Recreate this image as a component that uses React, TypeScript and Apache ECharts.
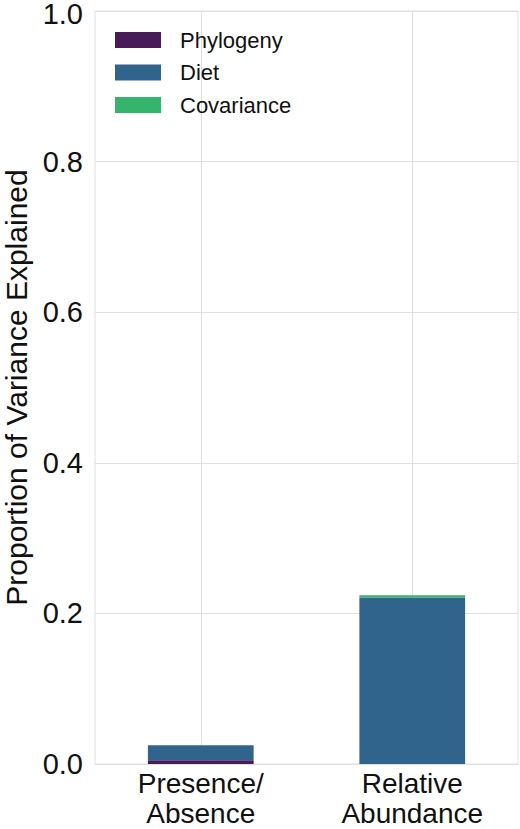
import { useEffect, useRef } from "react";
import * as echarts from "echarts";

const categories = ["Presence/\nAbsence", "Relative\nAbundance"];
const phylogeny = [0.005, 0.0];
const diet = [0.02, 0.221];
const covariance = [0.0, 0.003];

const FONT = "'Liberation Sans', Arial, sans-serif";
const GRID_COLOR = "#e0e0e0";

const App = () => {
  const chartRef = useRef<HTMLDivElement>(null);

  useEffect(() => {
    if (!chartRef.current) return;
    document.body.style.margin = "0";

    const chart = echarts.init(chartRef.current, undefined, { renderer: "svg" });
    const barStyle = (color: string) => ({
      type: "bar" as const,
      stack: "total",
      barWidth: "50%",
      z: 3,
      itemStyle: { color },
    });

    chart.setOption({
      animation: false,
      textStyle: { fontFamily: FONT },
      grid: {
        left: 95,
        right: 2,
        top: 11,
        bottom: 65,
        outerBoundsMode: "none",
        show: true,
        borderColor: GRID_COLOR,
        borderWidth: 1,
      },
      legend: {
        left: 110,
        top: 24,
        orient: "vertical",
        itemWidth: 46,
        itemHeight: 16,
        itemGap: 10.5,
        icon: "rect",
        textStyle: {
          fontSize: 22,
          color: "#111",
          fontFamily: FONT,
          padding: [0, 0, 0, 14],
        },
        data: ["Phylogeny", "Diet", "Covariance"],
      },
      xAxis: {
        type: "category",
        data: categories,
        axisLine: { show: true, lineStyle: { color: GRID_COLOR } },
        axisTick: { show: false },
        splitLine: { show: false },
        axisLabel: {
          color: "#111",
          fontSize: 28,
          lineHeight: 30,
          margin: 4,
          fontFamily: FONT,
        },
      },
      yAxis: {
        type: "value",
        min: 0,
        max: 1,
        interval: 0.2,
        name: "Proportion of Variance Explained",
        nameLocation: "middle",
        nameGap: 64,
        nameTextStyle: { fontSize: 30, lineHeight: 30, color: "#111", fontFamily: FONT },
        axisLine: { show: false },
        axisTick: { show: false },
        splitLine: { show: true, lineStyle: { color: GRID_COLOR, width: 1 } },
        axisLabel: {
          color: "#111",
          fontSize: 29,
          lineHeight: 20,
          margin: 12,
          fontFamily: FONT,
          // the top label sits a little lower so it stays inside the page
          formatter: (v: number) => (v === 1 ? `{top|${v.toFixed(1)}}` : v.toFixed(1)),
          rich: {
            top: {
              fontSize: 29,
              lineHeight: 20,
              color: "#111",
              fontFamily: FONT,
              padding: [6, 0, 0, 0],
            },
          },
        },
      },
      series: [
        {
          // vertical grid lines at the category centres, behind the bars
          type: "line",
          data: [],
          z: 1,
          silent: true,
          markLine: {
            z: 1,
            silent: true,
            symbol: "none",
            label: { show: false },
            lineStyle: { color: GRID_COLOR, width: 1, type: "solid" },
            data: categories.map((c) => ({ xAxis: c })),
          },
        },
        { name: "Phylogeny", data: phylogeny, ...barStyle("#481a57") },
        { name: "Diet", data: diet, ...barStyle("#31648d") },
        { name: "Covariance", data: covariance, ...barStyle("#35b46e") },
      ],
    });

    return () => {
      chart.dispose();
    };
  }, []);

  return <div ref={chartRef} style={{ width: "520px", height: "829px" }} />;
};

export default App;
